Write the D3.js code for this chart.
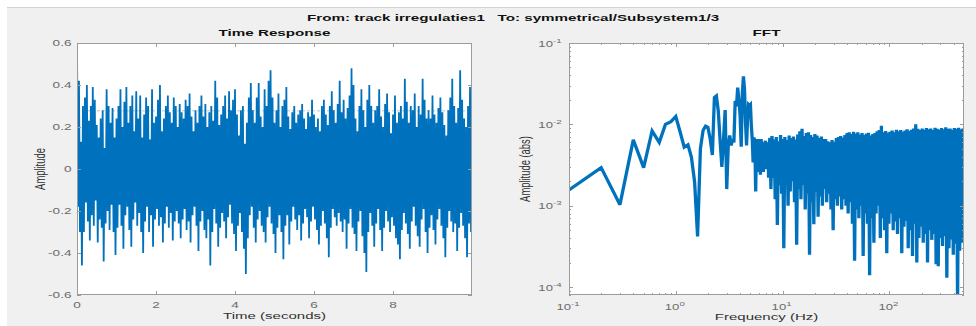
<!DOCTYPE html>
<html>
<head>
<meta charset="utf-8">
<script src="https://cdn.jsdelivr.net/npm/d3@7"></script>
<style>
  html, body { margin: 0; padding: 0; background: #ffffff; }
  svg { display: block; }
</style>
</head>
<body>
<svg id="fig" width="976" height="326"></svg>
<script>
// ---------------- data ----------------
const titleFrom = "From: track irregulaties1";
const titleTo = "To: symmetrical/Subsystem1/3";
const leftTitle = "Time Response";
const rightTitle = "FFT";
const leftXLabel = "Time (seconds)";
const leftYLabel = "Amplitude";
const rightXLabel = "Frequency (Hz)";
const rightYLabel = "Amplitude (abs)";

// time response: local maxima (at k*0.05 s) and minima (at k*0.05+0.025 s)
const timeStep = 0.05;
const timeHi = [
  0.59,0.42,0.13,0.30,0.34,0.40,0.23,0.30,0.39,0.33,0.21,0.15,0.24,0.28,0.10,0.38,0.30,0.22,0.29,0.15,
  0.24,0.30,0.38,0.20,0.32,0.39,0.22,0.30,0.35,0.18,0.37,0.24,0.35,0.15,0.26,0.34,0.30,0.14,0.38,0.22,
  0.25,0.33,0.40,0.18,0.24,0.30,0.35,0.27,0.22,0.34,0.30,0.20,0.31,0.27,0.24,0.33,0.30,0.36,0.25,0.18,
  0.28,0.22,0.30,0.35,0.25,0.31,0.20,0.27,0.30,0.23,0.42,0.34,0.21,0.26,0.30,0.35,0.24,0.37,0.28,0.33,
  0.38,0.26,0.16,0.28,0.30,0.12,0.22,0.34,0.41,0.28,0.22,0.34,0.41,0.25,0.20,0.38,0.30,0.42,0.47,0.34,
  0.22,0.28,0.36,0.20,0.30,0.33,0.39,0.25,0.19,0.27,0.30,0.22,0.26,0.28,0.31,0.24,0.19,0.27,0.25,0.33,
  0.26,0.20,0.24,0.18,0.30,0.33,0.26,0.21,0.30,0.37,0.28,0.22,0.31,0.42,0.27,0.33,0.24,0.29,0.35,0.48,
  0.40,0.24,0.18,0.30,0.38,0.28,0.20,0.33,0.40,0.30,0.22,0.28,0.30,0.38,0.25,0.20,0.31,0.36,0.27,0.17,
  0.26,0.35,0.22,0.27,0.30,0.24,0.43,0.32,0.22,0.30,0.28,0.36,0.20,0.30,0.26,0.43,0.33,0.24,0.28,0.24,
  0.35,0.26,0.22,0.29,0.34,0.27,0.21,0.16,0.28,0.34,0.43,0.30,0.22,0.29,0.47,0.33,0.24,0.20,0.30,0.39
];
const timeLo = [
  -0.18,-0.30,-0.46,-0.30,-0.16,-0.25,-0.34,-0.22,-0.27,-0.15,-0.35,-0.24,-0.28,-0.44,-0.26,-0.20,-0.29,-0.17,-0.30,-0.41,
  -0.28,-0.17,-0.27,-0.38,-0.22,-0.18,-0.29,-0.37,-0.24,-0.16,-0.27,-0.21,-0.30,-0.40,-0.25,-0.18,-0.30,-0.22,-0.37,-0.24,
  -0.19,-0.27,-0.23,-0.35,-0.26,-0.18,-0.28,-0.21,-0.34,-0.25,-0.20,-0.26,-0.33,-0.24,-0.19,-0.29,-0.25,-0.35,-0.22,-0.18,
  -0.27,-0.39,-0.25,-0.20,-0.29,-0.33,-0.24,-0.46,-0.30,-0.19,-0.26,-0.37,-0.28,-0.21,-0.25,-0.33,-0.23,-0.17,-0.26,-0.31,
  -0.39,-0.27,-0.21,-0.30,-0.38,-0.50,-0.33,-0.22,-0.18,-0.28,-0.35,-0.24,-0.20,-0.27,-0.30,-0.35,-0.23,-0.18,-0.26,-0.31,
  -0.40,-0.28,-0.22,-0.30,-0.43,-0.27,-0.22,-0.36,-0.25,-0.18,-0.24,-0.29,-0.22,-0.34,-0.26,-0.19,-0.23,-0.33,-0.25,-0.18,
  -0.24,-0.29,-0.36,-0.27,-0.20,-0.26,-0.33,-0.42,-0.28,-0.19,-0.23,-0.27,-0.21,-0.25,-0.30,-0.24,-0.38,-0.26,-0.19,-0.28,
  -0.31,-0.39,-0.25,-0.20,-0.32,-0.40,-0.49,-0.30,-0.21,-0.27,-0.37,-0.26,-0.19,-0.29,-0.39,-0.28,-0.20,-0.25,-0.30,-0.23,
  -0.27,-0.33,-0.36,-0.43,-0.29,-0.21,-0.26,-0.31,-0.38,-0.25,-0.18,-0.27,-0.32,-0.37,-0.24,-0.19,-0.30,-0.40,-0.28,-0.22,
  -0.29,-0.36,-0.24,-0.19,-0.27,-0.33,-0.42,-0.28,-0.20,-0.25,-0.30,-0.26,-0.39,-0.28,-0.21,-0.27,-0.33,-0.42,-0.26,-0.30
];
const timeRefLevel = 0.277;
const timeXTicks = [0, 2, 4, 6, 8];
const timeYTicks = [0.6, 0.4, 0.2, 0, -0.2, -0.4, -0.6];

// FFT: resolved bins 0.1 ... 7.5 Hz
const fftLowStep = 0.1;
const fftLowAmp = [
  1.56e-3, 2.94e-3, 1.03e-3, 6.45e-3, 2.94e-3, 8.3e-3, 6.0e-3, 1.0e-2, 1.08e-2, 1.25e-2,
  8.0e-3, 5.25e-3, 5.6e-3, 3.97e-3, 1.97e-3, 4.2e-4, 5.0e-3, 8.4e-3, 9.5e-3, 9.2e-3,
  6.6e-3, 4.2e-3, 2.13e-2, 2.23e-2, 1.46e-2, 6.3e-3, 3.0e-3, 6.5e-3, 1.5e-2, 1.6e-3,
  5.5e-3, 7.3e-3, 5.5e-3, 6.6e-3, 6.0e-3, 1.94e-2, 1.68e-2, 2.82e-2, 2.0e-2, 1.3e-2,
  5.3e-3, 2.4e-2, 3.9e-2, 2.7e-2, 1.05e-2, 5.5e-3, 1.16e-2, 1.75e-2, 1.7e-2, 1.75e-2,
  9.6e-3, 6.6e-3, 3.4e-3, 6.9e-3, 6.0e-3, 1.5e-3, 6.6e-3, 5.0e-3, 6.6e-3, 2.6e-3,
  6.0e-3, 2.4e-3, 6.6e-3, 4.2e-3, 6.0e-3, 2.6e-3, 6.0e-3, 5.0e-3, 6.3e-3, 2.8e-3,
  6.0e-3, 4.2e-3, 5.5e-3, 2.2e-3, 5.5e-3
];
// FFT: dense band 7.6 ... 500 Hz, per log-spaced bin upper and lower extremes
const bandStartHz = 7.6;
const bandEndHz = 500;
const bandHi = [
  6.8e-3, 7.2e-3, 6.5e-3, 7.0e-3, 6.2e-3, 7.4e-3, 6.6e-3, 7.0e-3, 6.4e-3, 7.3e-3,
  6.8e-3, 7.1e-3, 6.5e-3, 7.5e-3, 8.2e-3, 8.8e-3, 7.2e-3, 7.8e-3, 8.0e-3, 7.4e-3,
  7.0e-3, 7.6e-3, 7.3e-3, 6.8e-3, 7.1e-3, 6.6e-3, 6.6e-3, 6.2e-3, 6.0e-3, 6.4e-3,
  6.1e-3, 6.8e-3, 7.0e-3, 7.2e-3, 6.9e-3, 7.4e-3, 7.8e-3, 8.0e-3, 7.6e-3, 8.1e-3,
  7.7e-3, 8.0e-3, 7.5e-3, 7.8e-3, 7.4e-3, 7.7e-3, 7.9e-3, 7.3e-3, 7.6e-3, 7.8e-3,
  8.2e-3, 8.5e-3, 9.6e-3, 8.0e-3, 8.3e-3, 7.9e-3, 8.1e-3, 8.4e-3, 8.0e-3, 8.6e-3,
  8.2e-3, 8.5e-3, 8.1e-3, 8.4e-3, 8.7e-3, 8.3e-3, 8.6e-3, 8.9e-3, 1.0e-2, 8.8e-3,
  8.5e-3, 8.9e-3, 8.6e-3, 9.0e-3, 8.7e-3, 8.9e-3, 8.5e-3, 9.1e-3, 8.8e-3, 8.6e-3,
  9.0e-3, 8.7e-3, 9.2e-3, 8.8e-3, 8.9e-3, 8.6e-3, 9.0e-3, 8.8e-3, 9.1e-3, 8.7e-3,
  8.9e-3
];
const bandLo = [
  1.6e-3, 2.2e-3, 1.2e-3, 5.8e-4, 1.8e-3, 1.4e-3, 3.0e-4, 1.9e-3, 1.0e-3, 1.5e-3,
  2.0e-3, 1.1e-3, 3.3e-4, 1.6e-3, 1.2e-3, 1.8e-3, 9.0e-4, 1.4e-3, 2.5e-4, 1.1e-3,
  5.9e-4, 1.5e-3, 7.3e-4, 1.3e-3, 1.0e-3, 1.6e-3, 1.1e-3, 1.4e-3, 9.0e-4, 5.0e-4,
  1.2e-3, 1.0e-3, 1.3e-3, 9.0e-4, 1.2e-3, 1.0e-3, 8.0e-4, 1.1e-3, 6.0e-4, 2.1e-4,
  9.0e-4, 7.0e-4, 1.0e-3, 2.4e-4, 8.0e-4, 6.0e-4, 1.4e-4, 7.0e-4, 3.5e-4, 8.0e-4,
  1.0e-3, 4.0e-4, 7.0e-4, 5.0e-4, 2.6e-4, 6.0e-4, 8.0e-4, 5.0e-4, 6.4e-4, 4.5e-4,
  7.0e-4, 2.6e-4, 5.5e-4, 6.5e-4, 3.0e-4, 5.0e-4, 2.4e-4, 6.0e-4, 2.0e-4, 4.0e-4,
  5.5e-4, 3.5e-4, 4.5e-4, 2.0e-4, 5.0e-4, 3.8e-4, 4.5e-4, 1.9e-4, 1.8e-4, 4.0e-4,
  3.2e-4, 4.2e-4, 1.3e-4, 3.0e-4, 3.8e-4, 2.5e-4, 3.4e-4, 6.0e-5, 2.8e-4, 3.5e-4,
  7.0e-4
];
const fftXTickExps = [-1, 0, 1, 2];
const fftYTickExps = [-1, -2, -3, -4];

// ---------------- layout ----------------
const SX = 1.6;                       // horizontal stretch of the figure
const FONT = "'Liberation Sans', Arial, Helvetica, sans-serif";
const L = { x0: 77, x1: 472, y0: 43, y1: 295 };
const R = { x0: 569, x1: 964, y0: 43, y1: 295 };
const BLUE = "#0072BD";
const AXIS = "#9c9c9c";
const TICKTXT = "#6b6b6b";

const svg = d3.select("#fig");

function label(parent, x, y, s, o) {
  const t = parent.append("text")
    .attr("transform", `translate(${x},${y}) scale(${SX},1)` + (o.rot ? " rotate(-90)" : ""))
    .attr("text-anchor", o.anchor || "start")
    .attr("font-family", FONT)
    .attr("font-size", o.size)
    .attr("font-weight", o.weight || "normal")
    .attr("fill", o.fill || "#333");
  if (s !== null) t.text(s);
  return t;
}

// figure background
svg.append("rect").attr("x", 0).attr("y", 0).attr("width", 976).attr("height", 326).attr("fill", "#ffffff");
svg.append("rect").attr("x", 7).attr("y", 7).attr("width", 969).attr("height", 319).attr("fill", "#f0f0f0");
svg.append("line").attr("x1", 7).attr("x2", 976).attr("y1", 7.5).attr("y2", 7.5).attr("stroke", "#d2d2d2");

// figure title
label(svg, 307, 21, titleFrom, { size: 9.5, weight: "bold", fill: "#111" });
label(svg, 497.5, 21, titleTo, { size: 9.5, weight: "bold", fill: "#111" });

const defs = svg.append("defs");
defs.append("clipPath").attr("id", "clipL").append("rect")
  .attr("x", L.x0).attr("y", L.y0).attr("width", L.x1 - L.x0).attr("height", L.y1 - L.y0);
defs.append("clipPath").attr("id", "clipR").append("rect")
  .attr("x", R.x0).attr("y", R.y0).attr("width", R.x1 - R.x0).attr("height", R.y1 - R.y0);

// ---------------- Time response ----------------
const xT = d3.scaleLinear().domain([0, 10]).range([L.x0, L.x1]);
const yT = d3.scaleLinear().domain([-0.6, 0.6]).range([L.y1, L.y0]);

const gL = svg.append("g");
gL.append("rect").attr("x", L.x0).attr("y", L.y0).attr("width", L.x1 - L.x0).attr("height", L.y1 - L.y0).attr("fill", "#fff");
gL.append("line")
  .attr("x1", L.x0).attr("x2", L.x1).attr("y1", yT(timeRefLevel)).attr("y2", yT(timeRefLevel))
  .attr("stroke", "#b4b4b4").attr("stroke-width", 0.8).attr("stroke-dasharray", "3,2");

const timePts = [[0, 0]];
timeHi.forEach((v, i) => {
  timePts.push([i * timeStep, v]);
  timePts.push([i * timeStep + timeStep / 2, timeLo[i]]);
});
gL.append("path")
  .attr("clip-path", "url(#clipL)")
  .attr("d", d3.line().x(d => xT(d[0])).y(d => yT(d[1]))(timePts))
  .attr("fill", "none").attr("stroke", BLUE).attr("stroke-width", 1.8)
  .attr("stroke-linejoin", "miter").attr("stroke-miterlimit", 2);

// axes box + inward ticks
function box(g, P) {
  g.append("rect").attr("x", P.x0 + 0.5).attr("y", P.y0 + 0.5)
    .attr("width", P.x1 - P.x0 - 1).attr("height", P.y1 - P.y0 - 1)
    .attr("fill", "none").attr("stroke", AXIS).attr("stroke-width", 1);
}
function xTicksAt(g, P, xs, len) {
  xs.forEach(x => {
    g.append("line").attr("x1", x).attr("x2", x).attr("y1", P.y1).attr("y2", P.y1 - len).attr("stroke", AXIS);
    g.append("line").attr("x1", x).attr("x2", x).attr("y1", P.y0).attr("y2", P.y0 + len).attr("stroke", AXIS);
  });
}
function yTicksAt(g, P, ys, len) {
  ys.forEach(y => {
    g.append("line").attr("x1", P.x0).attr("x2", P.x0 + len).attr("y1", y).attr("y2", y).attr("stroke", AXIS);
    g.append("line").attr("x1", P.x1).attr("x2", P.x1 - len).attr("y1", y).attr("y2", y).attr("stroke", AXIS);
  });
}
box(gL, L);
xTicksAt(gL, L, timeXTicks.map(t => Math.round(xT(t)) + 0.5), 4);
yTicksAt(gL, L, timeYTicks.map(v => Math.round(yT(v)) + 0.5), 4);

timeXTicks.forEach(t => label(gL, xT(t), 307.5, String(t), { size: 8.5, anchor: "middle", fill: TICKTXT }));
timeYTicks.forEach(v => label(gL, 71.5, yT(v) + 3, String(v), { size: 8.5, anchor: "end", fill: TICKTXT }));
label(gL, (L.x0 + L.x1) / 2, 36, leftTitle, { size: 9.5, weight: "bold", anchor: "middle", fill: "#111" });
label(gL, (L.x0 + L.x1) / 2, 319, leftXLabel, { size: 9.4, anchor: "middle", fill: "#303030" });
label(gL, 45, (L.y0 + L.y1) / 2, leftYLabel, { size: 9.4, anchor: "middle", fill: "#303030", rot: true });

// ---------------- FFT ----------------
const xF = d3.scaleLog().domain([0.1, 500]).range([R.x0, R.x1]);
const yF = d3.scaleLog().domain([Math.pow(10, -4.098), 0.1]).range([R.y1, R.y0]);

const gR = svg.append("g");
gR.append("rect").attr("x", R.x0).attr("y", R.y0).attr("width", R.x1 - R.x0).attr("height", R.y1 - R.y0).attr("fill", "#fff");

const fftPts = fftLowAmp.map((a, i) => [(i + 1) * fftLowStep, a]);
const lg0 = Math.log10(bandStartHz), lg1 = Math.log10(bandEndHz);
const bandStep = (lg1 - lg0) / (bandHi.length - 0.5);
bandHi.forEach((a, k) => {
  fftPts.push([Math.pow(10, lg0 + k * bandStep), a]);
  fftPts.push([Math.pow(10, lg0 + (k + 0.5) * bandStep), bandLo[k]]);
});
gR.append("path")
  .attr("clip-path", "url(#clipR)")
  .attr("d", d3.line().x(d => xF(d[0])).y(d => yF(d[1]))(fftPts))
  .attr("fill", "none").attr("stroke", BLUE).attr("stroke-width", 3.3)
  .attr("stroke-linejoin", "miter").attr("stroke-miterlimit", 3);

box(gR, R);
const xMajor = fftXTickExps.map(e => Math.pow(10, e));
const xMinor = [];
fftXTickExps.forEach(e => { for (let m = 2; m <= 9; m++) { const f = m * Math.pow(10, e); if (f < 500) xMinor.push(f); } });
const yMinor = [];
[-5, -4, -3, -2].forEach(e => { for (let m = 2; m <= 9; m++) { const a = m * Math.pow(10, e); if (a > yF.domain()[0] && a < 0.1) yMinor.push(a); } });
xTicksAt(gR, R, xMajor.map(f => Math.round(xF(f)) + 0.5), 4);
xTicksAt(gR, R, xMinor.map(f => Math.round(xF(f)) + 0.5), 2);
yTicksAt(gR, R, fftYTickExps.map(e => Math.round(yF(Math.pow(10, e))) + 0.5), 4);
yTicksAt(gR, R, yMinor.map(a => Math.round(yF(a)) + 0.5), 2);

function powLabel(g, x, y, e, anchor) {
  const t = label(g, x, y, null, { size: 8.2, anchor: anchor, fill: TICKTXT });
  t.append("tspan").text("10");
  t.append("tspan").attr("dy", -4).attr("font-size", 6).text(String(e));
}
fftXTickExps.forEach(e => powLabel(gR, xF(Math.pow(10, e)) - 1, 310, e, "middle"));
fftYTickExps.forEach(e => powLabel(gR, 561.5, yF(Math.pow(10, e)) + 3.5, e, "end"));
label(gR, (R.x0 + R.x1) / 2, 36, rightTitle, { size: 9.5, weight: "bold", anchor: "middle", fill: "#111" });
label(gR, (R.x0 + R.x1) / 2, 320, rightXLabel, { size: 9.4, anchor: "middle", fill: "#303030" });
label(gR, 530, (R.y0 + R.y1) / 2, rightYLabel, { size: 9.4, anchor: "middle", fill: "#303030", rot: true });
</script>
</body>
</html>
